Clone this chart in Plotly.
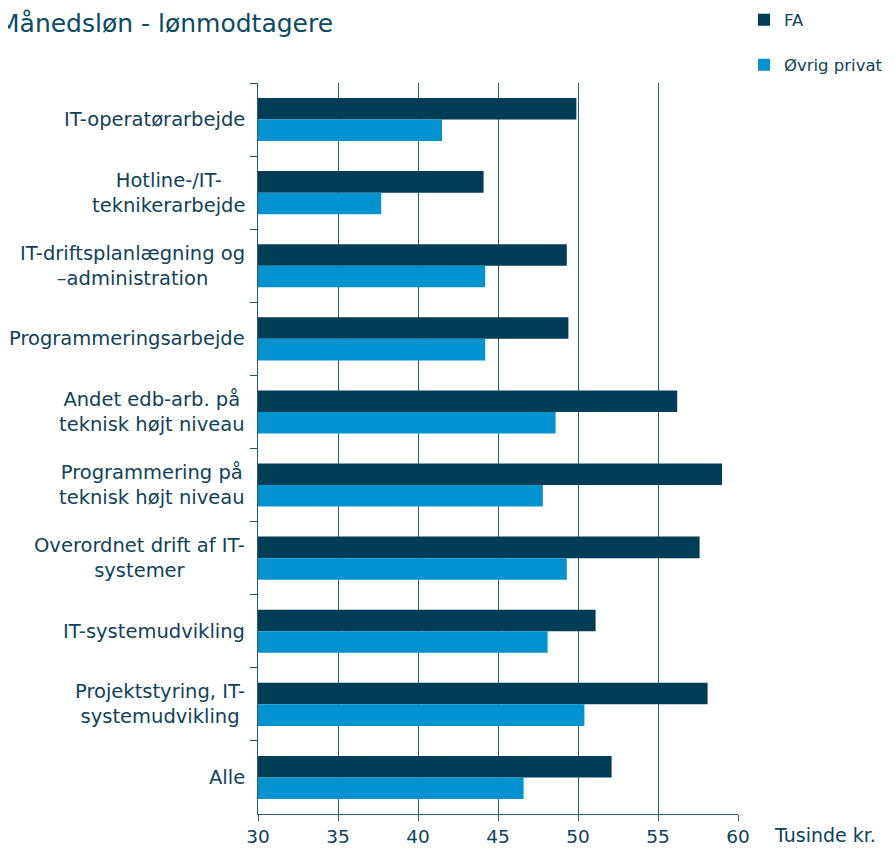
import plotly.graph_objects as go

categories = [
    "IT-operatørarbejde",
    "Hotline-/IT-<br>teknikerarbejde",
    "IT-driftsplanlægning og<br>–administration",
    "Programmeringsarbejde",
    "Andet edb-arb. på<br>teknisk højt niveau",
    "Programmering på<br>teknisk højt niveau",
    "Overordnet drift af IT-<br>systemer",
    "IT-systemudvikling",
    "Projektstyring, IT-<br>systemudvikling",
    "Alle",
]
fa_values = [49.9, 44.1, 49.3, 49.4, 56.2, 59.0, 57.6, 51.1, 58.1, 52.1]
ovrig_values = [41.5, 37.7, 44.2, 44.2, 48.6, 47.8, 49.3, 48.1, 50.4, 46.6]
x_ticks = [30, 35, 40, 45, 50, 55, 60]

TEXT = "#0f4259"
FA_COLOR = "#023d57"
OV_COLOR = "#0093cf"
GRID = "#2a5a70"
FONT = "DejaVu Sans, Verdana, sans-serif"
FS = 18.5
FS_LBL = 19.5

W, H = 895, 850
L, R, T, B = 250, 165, 75, 44
PW = W - L - R
PH = H - T - B

fig = go.Figure()
fig.add_trace(go.Bar(y=categories, x=fa_values, orientation="h",
                     name="FA", marker=dict(color=FA_COLOR, line=dict(width=0)),
                     legend="legend", showlegend=True))
fig.add_trace(go.Bar(y=categories, x=ovrig_values, orientation="h",
                     name="Øvrig privat", marker=dict(color=OV_COLOR, line=dict(width=0)),
                     legend="legend2", showlegend=True))

annotations = []
for c in categories:
    annotations.append(dict(x=0, xref="paper", y=c, yref="y", xanchor="right",
                            yanchor="middle", xshift=-11, text=c, showarrow=False,
                            align="center", font=dict(family=FONT, size=FS_LBL, color=TEXT)))
annotations.append(dict(x=(-12 - L) / PW, xref="paper", y=1 + (T - 32) / PH, yref="paper",
                        xanchor="left", yanchor="bottom", text="Månedsløn - lønmodtagere",
                        showarrow=False, font=dict(family=FONT, size=25, color="#0b4a63")))
annotations.append(dict(x=1, xref="paper", y=0, yref="paper", xshift=34, yshift=-21,
                        xanchor="left", yanchor="middle", text="Tusinde kr.",
                        showarrow=False, font=dict(family=FONT, size=19, color=TEXT)))

fig.update_layout(
    width=W, height=H,
    margin=dict(l=L, r=R, t=T, b=B, autoexpand=False),
    paper_bgcolor="white", plot_bgcolor="white",
    showlegend=True,
    barmode="group", bargap=0.41, bargroupgap=0,
    font=dict(family=FONT, size=FS, color=TEXT),
    xaxis=dict(range=[30, 60], tickvals=x_ticks, showgrid=True, gridcolor=GRID,
               gridwidth=1.3, zeroline=False, showline=True, linecolor=GRID, linewidth=1.3,
               ticks="outside", ticklen=6, tickcolor=GRID,
               tickfont=dict(family=FONT, size=FS, color=TEXT)),
    yaxis=dict(autorange="reversed", showticklabels=False, showline=True, linecolor=GRID,
               linewidth=1.3, ticks="outside", tickson="boundaries", ticklen=7,
               tickcolor=GRID, showgrid=False),
    legend=dict(x=736 / W, xref="container", xanchor="left", y=1 - 12 / H, yref="container",
                yanchor="middle", font=dict(family=FONT, size=16.5, color=TEXT),
                bgcolor="rgba(0,0,0,0)"),
    legend2=dict(x=736 / W, xref="container", xanchor="left", y=1 - 57 / H, yref="container",
                 yanchor="middle", font=dict(family=FONT, size=16.5, color=TEXT),
                 bgcolor="rgba(0,0,0,0)"),
    annotations=annotations,
)
fig.write_html("out.html")
